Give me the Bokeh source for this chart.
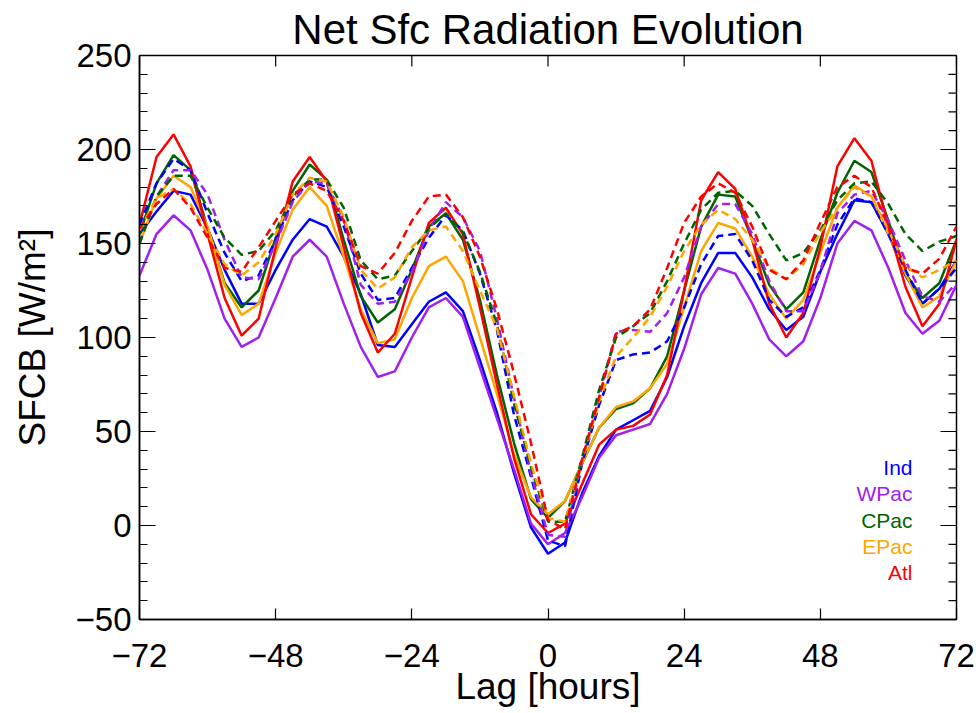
import math
from bokeh.plotting import figure
from bokeh.models import Range1d, FixedTicker, Label
from bokeh.embed import file_html
from bokeh.resources import INLINE

# ---- data (lag in hours, SFCB in W/m^2) ----
lag = list(range(-72, 73, 3))

regions = ["Ind", "WPac", "CPac", "EPac", "Atl"]
colors = ["#0000FF", "#A020F0", "#006400", "#FFA500", "#FF0000"]

ind_solid = [155,167,178,176,158,136,118,118,136,152,163,159,143,123,96,95,107,119,124,114,88,60,28,-1,-15,-9,17,37,51,56,61,79,106,129,145,145,132,115,104,111,135,155,173,172,155,133,118,126,141]
wpac_solid = [133,155,165,157,136,110,95,100,121,143,152,143,118,95,79,82,100,116,121,111,84,57,30,1,-10,-4,15,36,48,51,54,70,94,123,137,134,118,99,90,98,121,150,162,157,137,113,102,109,128]
cpac_solid = [155,182,197,189,158,129,116,125,153,178,192,184,152,122,108,115,136,159,166,152,120,80,44,14,4,13,33,52,62,65,73,90,125,159,176,175,152,128,115,124,152,177,194,188,162,134,121,129,152]
epac_solid = [150,174,186,180,159,128,112,118,145,168,180,170,143,115,97,99,121,138,143,130,100,70,38,15,6,13,33,52,63,66,73,86,116,146,161,158,143,123,110,120,145,169,181,175,155,134,116,122,141]
atl_solid = [160,196,208,191,155,121,101,110,148,183,196,183,148,113,92,102,132,161,169,155,116,75,36,6,-4,1,22,43,51,53,59,80,125,173,188,179,152,118,100,113,148,191,206,194,159,127,106,118,152]

ind_dash = [160,182,195,189,166,145,130,133,152,173,183,180,159,134,120,121,137,153,165,157,134,104,59,26,-8,-11,33,64,88,91,92,98,116,139,154,155,141,120,111,116,136,160,174,172,155,136,118,126,137]
wpac_dash = [150,175,189,189,176,152,132,131,150,172,183,182,163,128,118,119,135,157,172,164,146,110,68,28,-5,-6,35,68,103,104,103,113,132,159,171,171,155,130,114,114,135,166,176,178,162,141,122,119,129]
cpac_dash = [150,175,186,186,169,153,144,146,157,175,184,184,169,141,131,133,146,158,166,156,135,107,65,31,2,2,36,72,100,106,113,130,150,168,177,178,170,155,141,145,157,173,182,183,171,155,146,151,154]
epac_dash = [157,174,179,171,155,139,133,140,155,176,185,183,164,136,126,132,148,157,159,146,125,105,69,33,4,2,34,66,90,100,111,127,146,160,168,163,152,137,131,139,156,169,180,175,157,138,132,136,141]
atl_dash = [158,171,179,169,153,137,135,148,162,176,182,178,162,138,134,145,162,175,176,164,143,115,81,44,3,-2,35,68,102,106,115,137,161,175,182,177,159,136,131,141,161,180,186,180,159,137,134,142,159]

solid = [ind_solid, wpac_solid, cpac_solid, epac_solid, atl_solid]
dashed = [ind_dash, wpac_dash, cpac_dash, epac_dash, atl_dash]

x_ticks = [-72, -48, -24, 0, 24, 48, 72]
y_ticks = [-50, 0, 50, 100, 150, 200, 250]
y_minor = list(range(-50, 251, 10))

FONT = "Liberation Sans"
TICK_FS = "33px"
LABEL_FS = "37px"

p = figure(width=976, height=713, output_backend="svg", toolbar_location=None,
           x_range=Range1d(-72, 72), y_range=Range1d(-50, 250),
           min_border_left=139, min_border_right=20, min_border_top=55,
           min_border_bottom=94, background_fill_color="white",
           border_fill_color="white",
           title="Net Sfc Radiation Evolution")
p.grid.visible = False
p.outline_line_color = "black"
p.outline_line_width = 1.5

p.title.align = "center"
p.title.text_font = FONT
p.title.text_font_size = "42px"
p.title.text_font_style = "normal"
p.title.text_color = "black"
p.title.standoff = 5

# lines: solid first, then dashed
for ys, c in zip(solid, colors):
    p.line(lag, ys, line_color=c, line_width=2.5)
for ys, c in zip(dashed, colors):
    p.line(lag, ys, line_color=c, line_width=2.5, line_dash="8 5")

xa = p.xaxis[0]
xa.ticker = FixedTicker(ticks=x_ticks, minor_ticks=[])
xa.major_tick_in = 11
xa.major_tick_out = 0
xa.minor_tick_in = 0
xa.minor_tick_out = 0
xa.axis_line_color = "black"
xa.axis_line_width = 1.5
xa.major_tick_line_color = "black"
xa.major_tick_line_width = 1.2
xa.major_label_text_font = FONT
xa.major_label_text_font_size = TICK_FS
xa.major_label_text_color = "black"
xa.major_label_standoff = 24
xa.major_label_overrides = {t: (("\u2212" + str(-t)) if t < 0 else str(t)) for t in x_ticks}
xa.axis_label = "Lag [hours]"
xa.axis_label_text_font = FONT
xa.axis_label_text_font_size = LABEL_FS
xa.axis_label_text_font_style = "normal"
xa.axis_label_text_color = "black"
xa.axis_label_standoff = -4

ya = p.yaxis[0]
ya.ticker = FixedTicker(ticks=y_ticks, minor_ticks=y_minor)
ya.major_tick_in = 16
ya.major_tick_out = 0
ya.minor_tick_in = 8
ya.minor_tick_out = 0
ya.axis_line_color = "black"
ya.axis_line_width = 1.5
ya.major_tick_line_color = "black"
ya.minor_tick_line_color = "black"
ya.major_tick_line_width = 1.2
ya.minor_tick_line_width = 1.2
ya.major_label_text_font = FONT
ya.major_label_text_font_size = TICK_FS
ya.major_label_text_color = "black"
ya.major_label_standoff = 8
ya.major_label_overrides = {t: (("\u2212" + str(-t)) if t < 0 else str(t)) for t in y_ticks}
ya.axis_label = "SFCB [W/m\u00b2]"
ya.axis_label_text_font = FONT
ya.axis_label_text_font_size = LABEL_FS
ya.axis_label_text_font_style = "normal"
ya.axis_label_text_color = "black"
ya.axis_label_standoff = 20

# mirrored ticks on the top and right edges of the frame
y_top = p.y_range.end
x_right = p.x_range.end
p.ray(x=x_ticks, y=[y_top] * len(x_ticks), length=11, length_units="screen",
      angle=-math.pi / 2, line_color="black", line_width=1.2)
p.ray(x=[x_right] * len(y_ticks), y=y_ticks, length=16, length_units="screen",
      angle=math.pi, line_color="black", line_width=1.2)
p.ray(x=[x_right] * len(y_minor), y=y_minor, length=8, length_units="screen",
      angle=math.pi, line_color="black", line_width=1.2)

# legend text
for i, (name, c) in enumerate(zip(regions, colors)):
    p.add_layout(Label(x=72, y=-50, text=name, x_offset=-44,
                       y_offset=152 - i * 26.3,
                       text_align="right", text_baseline="middle",
                       text_font=FONT, text_font_size="21px", text_color=c))

open("out.html", "w").write(file_html(p, INLINE))
